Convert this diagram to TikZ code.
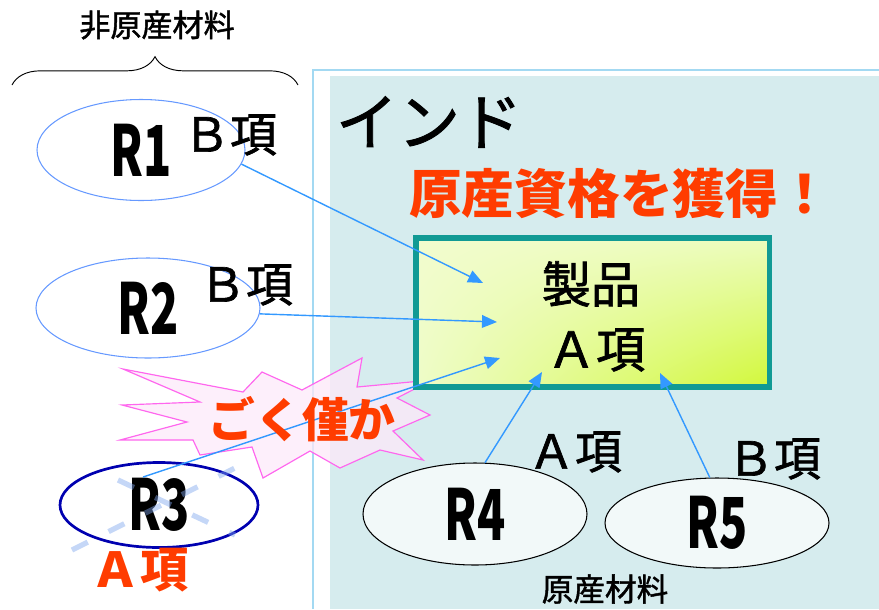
\documentclass[tikz,border=0pt]{standalone}
\usepackage{fontspec}
\setmainfont{Noto Sans CJK JP}
\newfontfamily\midfont{Noto Sans CJK JP}[FakeBold=1.4]
\usepackage{tikz}
\usetikzlibrary{shapes,arrows.meta,positioning,decorations.pathreplacing,shadings}

\definecolor{paneledge}{HTML}{A3D9F2}
\definecolor{panelbg}{HTML}{D6ECEE}
\definecolor{arrowblue}{HTML}{3399FF}
\definecolor{ovalblue}{HTML}{6699FF}
\definecolor{darkoval}{HTML}{0000B0}
\definecolor{ovalfill}{HTML}{F2F9F9}
\definecolor{boxteal}{HTML}{119A94}
\definecolor{boxpale}{HTML}{F2FCCE}
\definecolor{boxmid}{HTML}{ECFCBE}
\definecolor{boxlow}{HTML}{EEFCC8}
\definecolor{boxlime}{HTML}{D2F83A}
\definecolor{hotred}{HTML}{FF3C00}
\definecolor{burstpink}{HTML}{FF66EE}
\definecolor{burstfill}{HTML}{FDE9F9}
\definecolor{crossblue}{HTML}{7FA6EE}

\newcommand{\rtag}[1]{\fontsize{60}{60}\selectfont\bfseries\scalebox{0.66}[1]{#1}}

\begin{document}
\begin{tikzpicture}[x=0.03cm, y=-0.03cm,
    oval/.style={ellipse, draw=ovalblue, line width=0.9pt, inner sep=0pt},
    item/.style={font=\fontsize{40}{40}\selectfont\midfont, inner sep=0pt},
    alert/.style={font=\fontsize{40}{40}\selectfont\bfseries, text=hotred, inner sep=0pt},
    link/.style={arrowblue, line width=1.2pt, -{Triangle[length=0.45cm, width=0.38cm]}}]
    \useasboundingbox (0,0) rectangle (879,609);

    % India panel
    \fill[white] (313,70) rectangle (879,609);
    \fill[panelbg] (330,76) rectangle (879,609);
    \draw[paneledge, line width=1.5pt] (313,609) -- (313,70) -- (879,70);

    % Brace over the non-originating materials
    \draw[decorate, decoration={brace, amplitude=0.85cm}, line width=0.8pt] (12,85) -- (298,85);
    \node[font=\fontsize{26.5}{26.5}\selectfont\midfont, inner sep=0pt] (nonorig) at (157,25) {非原産材料};

    % Burst
    \filldraw[draw=burstpink, fill=burstfill, fill opacity=0.75, line width=1pt]
        (123,369) -- (243,392) -- (262,372) -- (302,390) -- (362,358) -- (357,387)
        -- (432,380) -- (397,398) -- (430,415) -- (393,431) -- (423,460) -- (380,450)
        -- (340,468) -- (310,451) -- (263,478) -- (252,447) -- (200,455) -- (193,440)
        -- (120,440) -- (187,422) -- (122,405) -- (200,402) -- cycle;

    % Nodes
    \node[oval, minimum width=6.24cm, minimum height=3.03cm] (R1) at (141,150) {\rtag{R1}};
    \node[oval, minimum width=6.72cm, minimum height=3cm] (R2) at (148,308) {\rtag{R2}};
    \node[oval, draw=darkoval, line width=2.3pt, minimum width=5.94cm, minimum height=2.55cm] (R3) at (159,505) {\rtag{R3}};
    \node[oval, draw=black, fill=ovalfill, minimum width=6.72cm, minimum height=3.06cm] (R4) at (475,514) {\rtag{R4}};
    \node[oval, draw=black, fill=ovalfill, minimum width=6.72cm, minimum height=2.7cm] (R5) at (717,523) {\rtag{R5}};

    \node[draw=boxteal, line width=4.3pt, minimum width=10.59cm, minimum height=4.47cm,
        upper left=boxpale, upper right=boxmid, lower left=boxlow, lower right=boxlime] (prod) at (592.5,312.5) {};
    \node[item, font=\fontsize{42}{42}\selectfont\midfont] (prodname) at (591,284) {製品};
    \node[item, font=\fontsize{42}{42}\selectfont\midfont] (prodclass) at (596,350) {Ａ項};

    % Labels
    \node[font=\fontsize{53}{53}\selectfont\midfont, inner sep=0pt] (india) at (429,122) {インド};
    \node[alert, font=\fontsize{45}{45}\selectfont\bfseries] (gain) at (620,193) {原産資格を獲得！};
    \node[item] (R1class) at (230,135) {Ｂ項};
    \node[item] (R2class) at (246,285) {Ｂ項};
    \node[alert, font=\fontsize{41}{41}\selectfont\bfseries] (R3class) at (140,570) {Ａ項};
    \node[item] (R4class) at (575,452) {Ａ項};
    \node[item] (R5class) at (774,459) {Ｂ項};
    \node[font=\fontsize{27}{27}\selectfont\midfont, inner sep=0pt] (orig) at (605,589) {原産材料};

    % Cross over R3
    \draw[crossblue, line width=4.5pt, opacity=0.45, dash pattern=on 15pt off 20pt] (72,550) -- (245,463);
    \draw[crossblue, line width=4.5pt, opacity=0.45, dash pattern=on 15pt off 20pt] (118,480) -- (235,535);

    % Edges
    \coordinate (t1) at (483,283);
    \coordinate (t2) at (497,322);
    \coordinate (t3) at (500,358);
    \coordinate (t4) at (542,372);
    \coordinate (t5) at (660,373);
    \coordinate (r3s) at (143,477);
    \draw[link] (R1.-8) -- (t1);
    \draw[link] (R2.-3) -- (t2);
    \draw[link] (r3s) -- (t3);
    \draw[link] (R4.79) -- (t4);
    \draw[link] (R5.99) -- (t5);

    \node[alert] (few) at (302,419) {ごく僅か};
\end{tikzpicture}
\end{document}
